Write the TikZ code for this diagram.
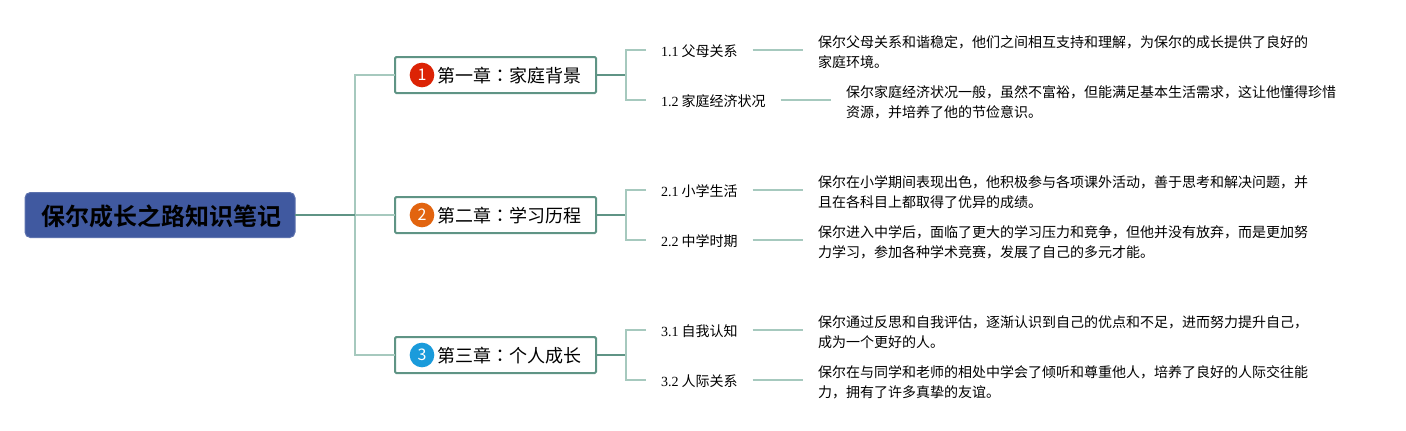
\documentclass[tikz,border=0pt]{standalone}
\usepackage{fontspec}
\setmainfont{Noto Sans CJK SC}[BoldFont={Noto Sans CJK SC Bold}]
\newfontfamily\numfont{Liberation Serif}
\newfontfamily\colonfont{Noto Sans CJK TC}
\definecolor{rootblue}{HTML}{4059A0}
\definecolor{boxgreen}{HTML}{5F9485}
\definecolor{linegreen}{HTML}{A6C9BE}
\definecolor{dotred}{HTML}{DC2305}
\definecolor{dotorange}{HTML}{E2640F}
\definecolor{dotblue}{HTML}{1A9BDB}
\tikzset{
  rootbox/.style={fill=rootblue,draw=rootblue!85!white,line width=0.75pt,rounded corners=4pt,anchor=west,minimum width=202.5pt,minimum height=33.75pt,inner xsep=10pt,inner ysep=0pt,outer sep=0pt,text width=182.5pt,text height=17.3pt,text depth=2.2pt,align=center,font=\fontsize{18}{22}\selectfont\bfseries},
  chapbox/.style={draw=boxgreen,line width=1.5pt,fill=white,rounded corners=1pt,anchor=west,inner xsep=11.25pt,inner ysep=0pt,outer sep=0pt,text width=128.25pt,text height=14pt,text depth=2.2pt,minimum height=27pt,align=right,font=\fontsize{13.5}{16}\selectfont},
  numdot/.style={circle,text=white,minimum size=18.5pt,inner sep=0pt,font=\fontsize{12}{14}\selectfont},
  leaf/.style={anchor=west,inner xsep=11.25pt,inner ysep=0pt,outer sep=0pt,text height=11pt,text depth=1.5pt,font=\fontsize{10.5}{15}\selectfont},
  detail/.style={anchor=west,inner xsep=11.25pt,inner ysep=0pt,outer sep=0pt,align=left,font=\fontsize{10.5}{15}\selectfont},
  link/.style={draw=linegreen,line width=1.1pt},
  trunk/.style={draw=boxgreen,line width=1.1pt}
}
\begin{document}
\begin{tikzpicture}[x=0.75pt,y=-0.75pt]
\useasboundingbox (0,0) rectangle (1406,430);

\coordinate (fork) at (355,215);
\coordinate (b1) at (626,75);
\coordinate (b2) at (626,215);
\coordinate (b3) at (626,355);

\node[rootbox] (root) at (25,215) {\hspace*{1.5pt}保尔成长之路知识笔记};

\node[chapbox] (ch1) at (395,75) {第一章{\colonfont ：}家庭背景};
\node[chapbox] (ch2) at (395,215) {第二章{\colonfont ：}学习历程};
\node[chapbox] (ch3) at (395,355) {第三章{\colonfont ：}个人成长};

\node[numdot,fill=dotred] (n1) at (422,75) {1};
\node[numdot,fill=dotorange] (n2) at (422,215) {2};
\node[numdot,fill=dotblue] (n3) at (422,355) {3};

\node[leaf] (l11) at (646,50) {{\numfont 1.1} 父母关系};
\node[leaf] (l12) at (646,100) {{\numfont 1.2} 家庭经济状况};
\node[leaf] (l21) at (646,190) {{\numfont 2.1} 小学生活};
\node[leaf] (l22) at (646,240) {{\numfont 2.2} 中学时期};
\node[leaf] (l31) at (646,330) {{\numfont 3.1} 自我认知};
\node[leaf] (l32) at (646,380) {{\numfont 3.2} 人际关系};

\node[detail] (d11) at (803,52) {保尔父母关系和谐稳定，他们之间相互支持和理解，为保尔的成长提供了良好的\\家庭环境。};
\node[detail] (d12) at (831,102) {保尔家庭经济状况一般，虽然不富裕，但能满足基本生活需求，这让他懂得珍惜\\资源，并培养了他的节俭意识。};
\node[detail] (d21) at (803,192) {保尔在小学期间表现出色，他积极参与各项课外活动，善于思考和解决问题，并\\且在各科目上都取得了优异的成绩。};
\node[detail] (d22) at (803,242) {保尔进入中学后，面临了更大的学习压力和竞争，但他并没有放弃，而是更加努\\力学习，参加各种学术竞赛，发展了自己的多元才能。};
\node[detail] (d31) at (803,332) {保尔通过反思和自我评估，逐渐认识到自己的优点和不足，进而努力提升自己，\\成为一个更好的人。};
\node[detail] (d32) at (803,382) {保尔在与同学和老师的相处中学会了倾听和尊重他人，培养了良好的人际交往能\\力，拥有了许多真挚的友谊。};

\draw[link] (fork) |- (ch1.west);
\draw[link] (fork) -- (ch2.west);
\draw[link] (fork) |- (ch3.west);
\draw[trunk] (root.east) -- (fork);

\draw[trunk] (ch1.east) -- (b1);
\draw[trunk] (ch2.east) -- (b2);
\draw[trunk] (ch3.east) -- (b3);

\draw[link] (l11.west) -| (b1) |- (l12.west);
\draw[link] (l21.west) -| (b2) |- (l22.west);
\draw[link] (l31.west) -| (b3) |- (l32.west);

\draw[link] (l11.east) -- (l11.east -| d11.west);
\draw[link] (l12.east) -- (l12.east -| d12.west);
\draw[link] (l21.east) -- (l21.east -| d21.west);
\draw[link] (l22.east) -- (l22.east -| d22.west);
\draw[link] (l31.east) -- (l31.east -| d31.west);
\draw[link] (l32.east) -- (l32.east -| d32.west);

\end{tikzpicture}
\end{document}
